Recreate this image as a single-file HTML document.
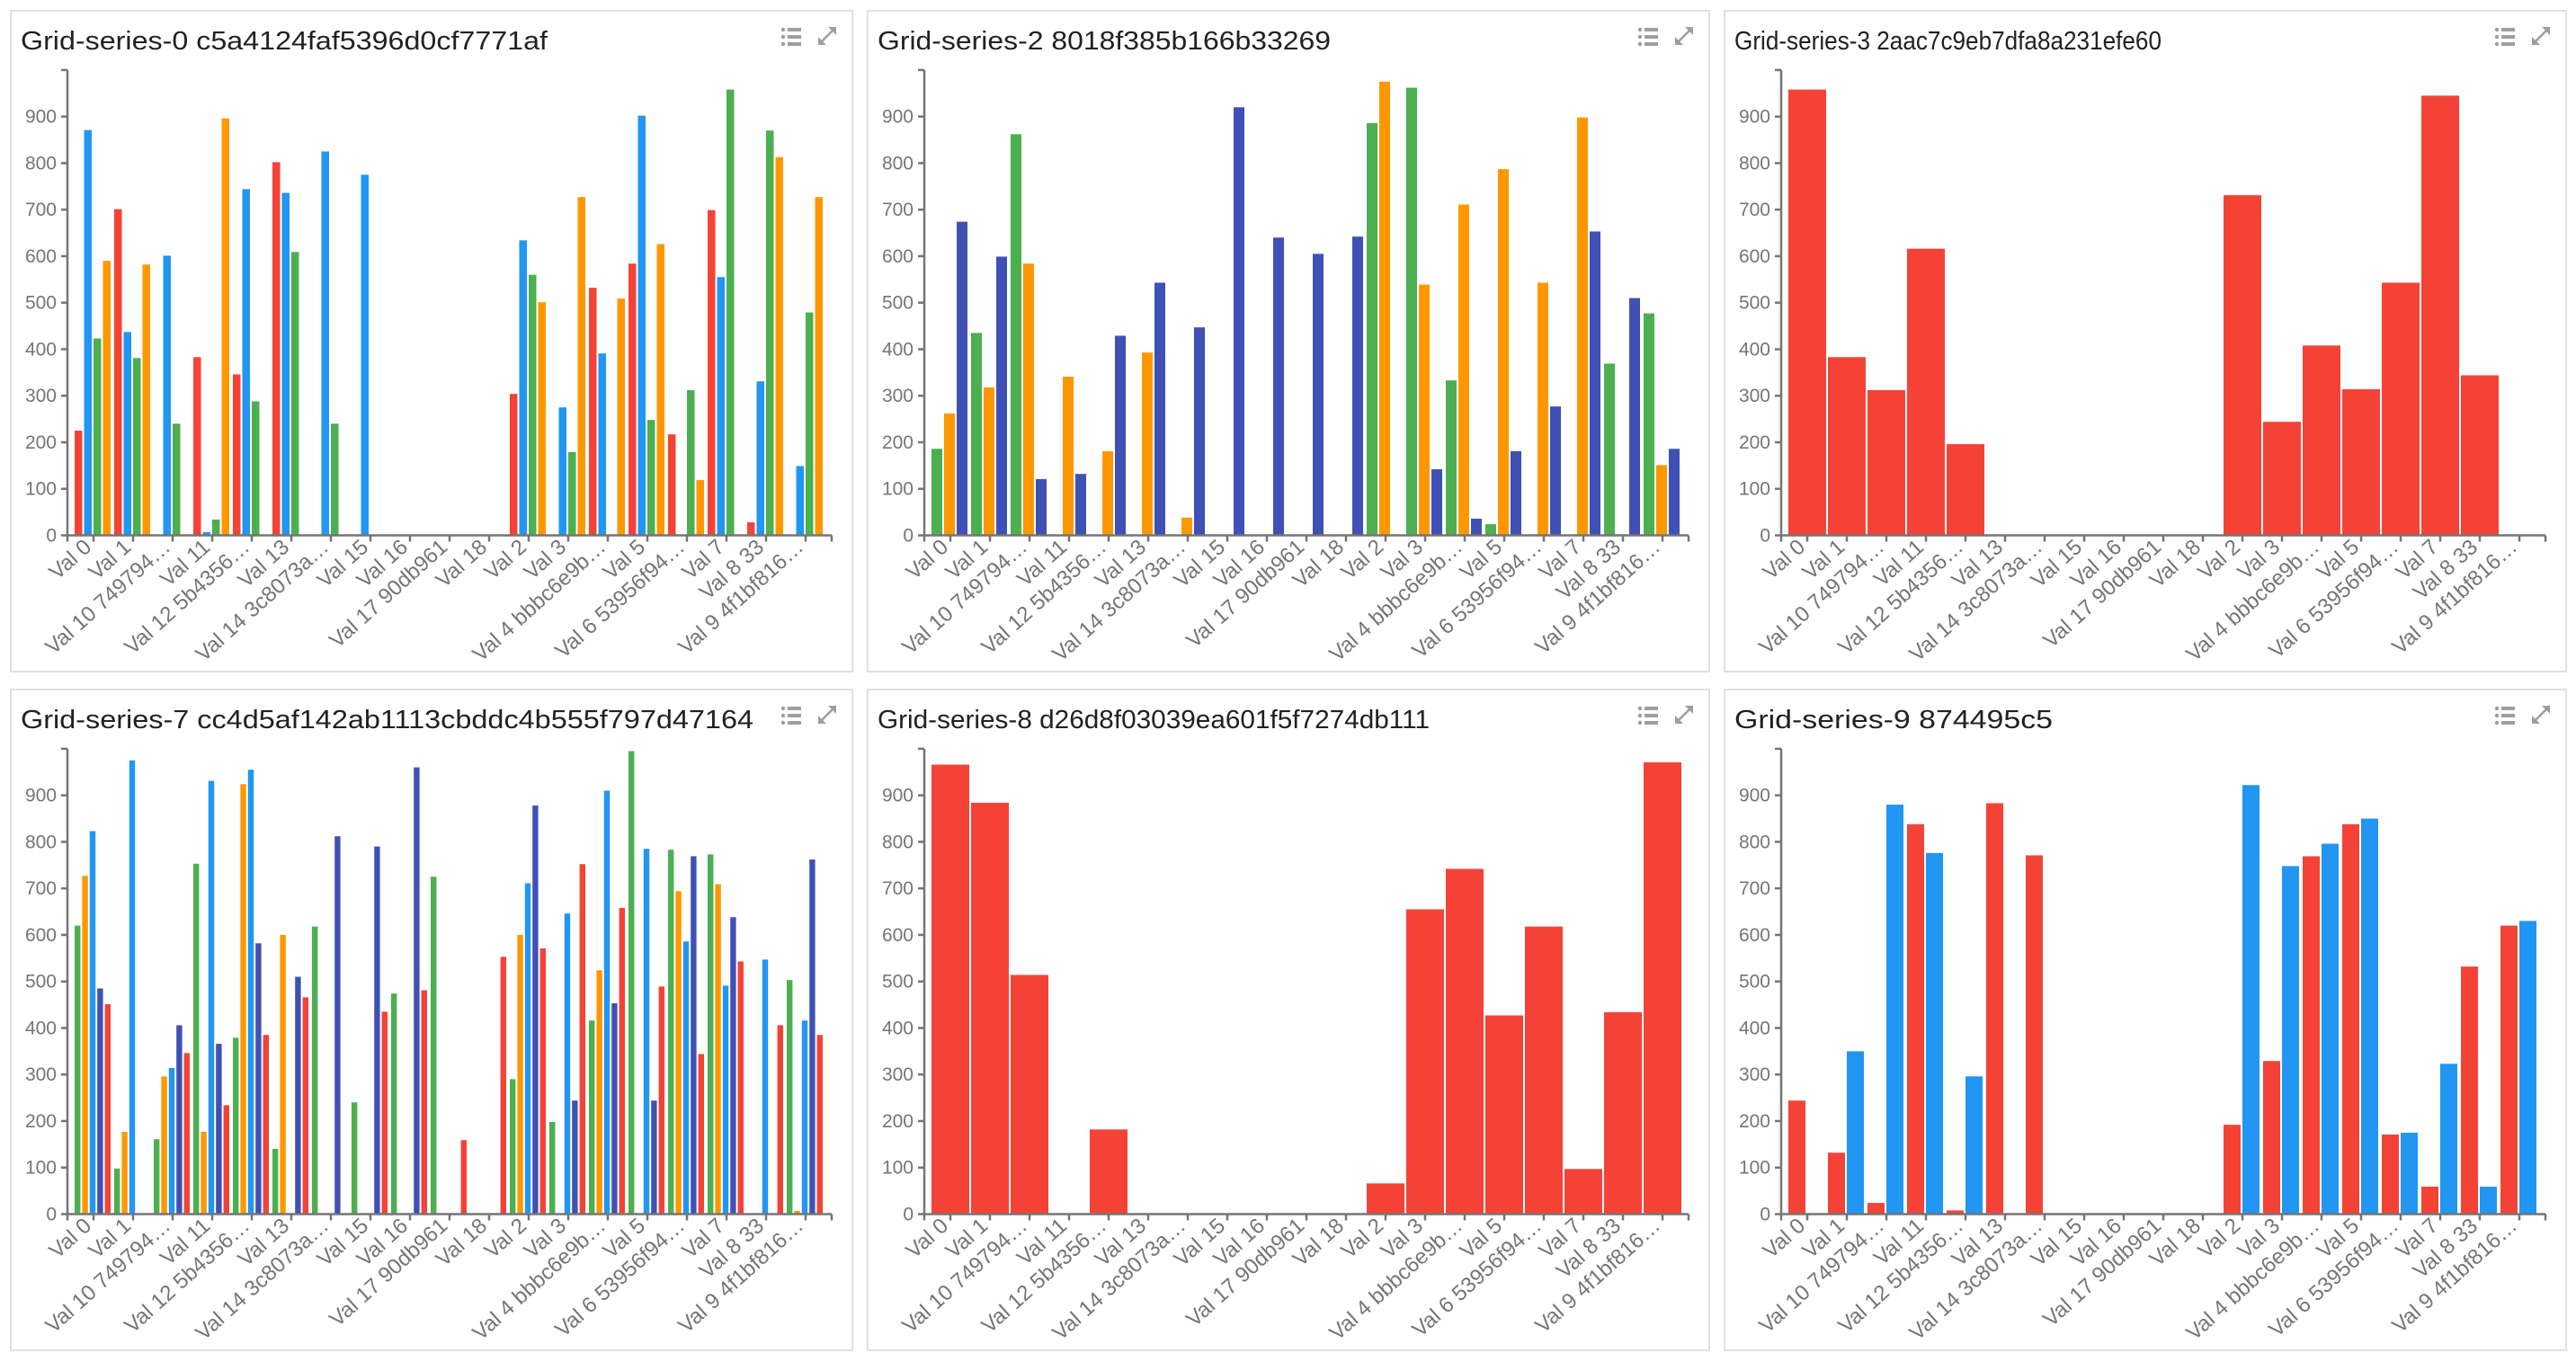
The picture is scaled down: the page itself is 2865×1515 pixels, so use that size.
<!DOCTYPE html>
<html><head><meta charset="utf-8"><style>
html,body{margin:0;padding:0;background:#fff;}
svg{display:block;font-family:"Liberation Sans",sans-serif;}
</style></head><body>
<svg id="root" width="2865" height="1515" viewBox="0 0 2865 1515" xmlns="http://www.w3.org/2000/svg"></svg>
<script>
const categories = ["Val 0","Val 1","Val 10 749794…","Val 11","Val 12 5b4356…","Val 13","Val 14 3c8073a…","Val 15","Val 16","Val 17 90db961","Val 18","Val 2","Val 3","Val 4 bbbc6e9b…","Val 5","Val 6 53956f94…","Val 7","Val 8 33","Val 9 4f1bf816…"];
const yTicks = [0,100,200,300,400,500,600,700,800,900];
const titles = ["Grid-series-0 c5a4124faf5396d0cf7771af","Grid-series-2 8018f385b166b33269","Grid-series-3 2aac7c9eb7dfa8a231efe60","Grid-series-7 cc4d5af142ab1113cbddc4b555f797d47164","Grid-series-8 d26d8f03039ea601f5f7274db111","Grid-series-9 874495c5"];
const titleWidths = [586,504,475,815,614,354];

const p0Red    = [225,701,0,383,346,802,0,0,0,0,0,304,0,532,584,217,699,28,0];
const p0Blue   = [871,437,601,7,744,736,825,775,0,0,0,634,275,391,902,0,555,331,149];
const p0Green  = [423,381,240,34,288,609,240,0,0,0,0,560,179,0,248,312,958,870,479];
const p0Orange = [590,582,0,896,0,0,0,0,0,0,0,501,727,509,626,119,0,813,727];

const p1Green  = [186,435,862,0,0,0,0,0,0,0,0,886,962,333,24,0,0,369,477];
const p1Orange = [262,318,584,341,181,393,38,0,0,0,0,975,539,711,787,543,898,0,151];
const p1Indigo = [674,599,121,132,429,543,447,920,640,605,642,0,142,36,181,277,653,510,186];

const p2Red = [958,383,312,616,196,0,0,0,0,0,0,731,244,408,314,543,945,344,0];

const p3Green  = [620,98,161,753,379,140,618,240,474,725,0,290,198,416,995,783,773,0,503];
const p3Orange = [727,177,296,177,924,600,0,0,0,0,0,600,0,524,0,694,709,0,7];
const p3Blue   = [823,975,314,931,955,0,0,0,0,0,0,711,646,910,785,586,491,547,416];
const p3Indigo = [485,0,406,366,582,510,812,790,960,0,0,878,244,453,244,769,638,0,762];
const p3Red    = [451,0,346,234,385,466,0,435,481,159,553,571,752,658,489,344,543,406,385];

const p4Red = [966,884,514,0,182,0,0,0,0,0,0,66,655,742,427,618,97,434,971];

const p5Red  = [244,132,24,838,8,883,771,0,0,0,0,192,329,769,838,171,59,532,620];
const p5Blue = [0,350,880,776,296,0,0,0,0,0,0,922,748,796,850,175,323,59,630];

const RED="#f44336",BLUE="#2196f3",GREEN="#4caf50",ORANGE="#ff9800",INDIGO="#3f51b5";
const panels = [
  {series:[p0Red,p0Blue,p0Green,p0Orange], colors:[RED,BLUE,GREEN,ORANGE]},
  {series:[p1Green,p1Orange,p1Indigo], colors:[GREEN,ORANGE,INDIGO]},
  {series:[p2Red], colors:[RED]},
  {series:[p3Green,p3Orange,p3Blue,p3Indigo,p3Red], colors:[GREEN,ORANGE,BLUE,INDIGO,RED]},
  {series:[p4Red], colors:[RED]},
  {series:[p5Red,p5Blue], colors:[RED,BLUE]}
];

const NS="http://www.w3.org/2000/svg";
const root=document.getElementById('root');
function mk(tag,attrs,parent){const e=document.createElementNS(NS,tag);for(const k in attrs)e.setAttribute(k,attrs[k]);parent.appendChild(e);return e;}

panels.forEach((p,pi)=>{
  const col=pi%3,row=Math.floor(pi/3);
  const px=12+col*953, py=12+row*755;
  const g=mk('g',{},root);
  
  
  const frame=mk('rect',{x:px,y:py,width:936,height:735,fill:'#fff',stroke:'#e0e0e0','stroke-width':2},g);
  
  
  const t=mk('text',{x:px+11,y:py+43,'font-size':29,fill:'#212121',textLength:titleWidths[pi],lengthAdjust:'spacingAndGlyphs'},g);
  t.textContent=titles[pi];
  
  
  const li=mk('g',{fill:'#9e9e9e'},g);
  
  
  for(let i=0;i<3;i++){
    mk('circle',{cx:px+859,cy:py+21+i*8,r:2.2},li);
    mk('rect',{x:px+864,y:py+19+i*8,width:15,height:4},li);
  }
  const ex=mk('g',{stroke:'#9e9e9e','stroke-width':2.5,fill:'#9e9e9e'},g);
  
  
  const ix=px+897, iy=py+17;
  mk('line',{x1:ix+3,y1:iy+19,x2:ix+19,y2:iy+3},ex);
  mk('polygon',{points:`${ix+21},${iy+1} ${ix+21},${iy+10} ${ix+12},${iy+1}`,stroke:'none'},ex);
  mk('polygon',{points:`${ix+1},${iy+21} ${ix+1},${iy+12} ${ix+10},${iy+21}`,stroke:'none'},ex);

  const ax=px+63, zeroY=py+583.5, topY=py+65.9;
  const yScale=v=>zeroY-(v/1000)*(zeroY-topY);
  const band=44, bandStart=i=>ax+7+i*band;
  const ac='#757575';
  yTicks.forEach(v=>{
    const y=yScale(v);
    mk('line',{x1:ax-7,y1:y,x2:ax,y2:y,stroke:ac,'stroke-width':2.5},g);
    const tl=mk('text',{x:ax-12,y:y+7,'font-size':21,fill:ac,'text-anchor':'end'},g);
    tl.textContent=v;
    
    
  });
  const n=p.series.length, step=(band-2)/n;
  p.series.forEach((arr,si)=>{
    arr.forEach((v,ci)=>{
      if(!v)return;
      const x=bandStart(ci)+1+si*step;
      const w=n===1?band-2:step-2;
      const r=mk('rect',{x:x,y:yScale(v),width:w,height:zeroY-yScale(v),fill:p.colors[si]},g);
      
      
    });
  });
  const ya=mk('line',{x1:ax,y1:topY,x2:ax,y2:zeroY+1,stroke:ac,'stroke-width':2.5},g);
  
  
  mk('line',{x1:ax-7,y1:topY,x2:ax,y2:topY,stroke:ac,'stroke-width':2.5},g);
  const xEnd=ax+850;
  const xa=mk('line',{x1:ax,y1:zeroY,x2:xEnd,y2:zeroY,stroke:ac,'stroke-width':2.5},g);
  
  
  mk('line',{x1:ax,y1:zeroY,x2:ax,y2:zeroY+7,stroke:ac,'stroke-width':2.5},g);
  mk('line',{x1:xEnd,y1:zeroY,x2:xEnd,y2:zeroY+7,stroke:ac,'stroke-width':2.5},g);
  categories.forEach((c,ci)=>{
    const cx=bandStart(ci)+band/2;
    mk('line',{x1:cx,y1:zeroY,x2:cx,y2:zeroY+7,stroke:ac,'stroke-width':2.5},g);
    const tl=mk('text',{x:0,y:0,'font-size':24,fill:'#757575','text-anchor':'end',transform:`translate(${cx-1},${zeroY+15}) rotate(-42)`},g);
    tl.textContent=c;
    
    
  });
});
</script>
</body></html>
